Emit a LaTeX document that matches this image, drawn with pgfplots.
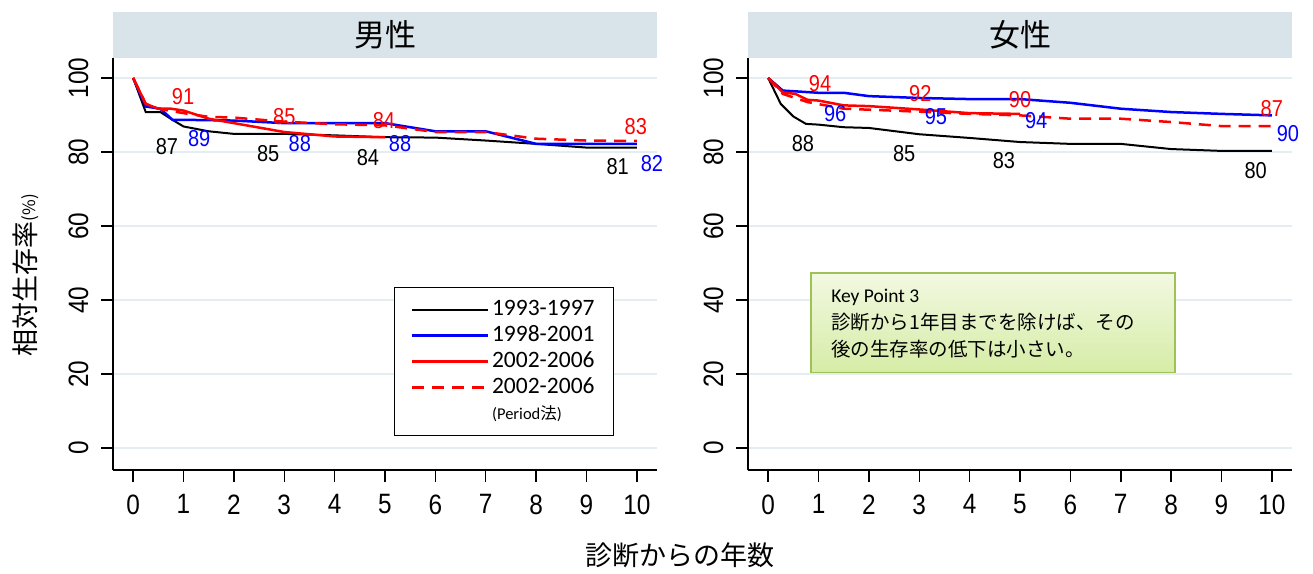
\documentclass[border=0pt]{standalone}
\usepackage{pgfplots}
\pgfplotsset{compat=1.18}
\usepackage{fontspec}
\setmainfont{Liberation Sans}
\newfontfamily\narrow[FakeStretch=0.87]{Liberation Sans}
\newfontfamily\cjk{Noto Sans CJK JP}
\newfontfamily\cali{Carlito}

\definecolor{gridc}{RGB}{228,237,240}
\definecolor{stripc}{RGB}{217,228,234}
\definecolor{kptop}{RGB}{242,249,226}
\definecolor{kpbot}{RGB}{214,236,166}
\definecolor{kpdraw}{RGB}{160,192,90}

\pgfplotsset{
  panel/.style={
    scale only axis, width=544pt, height=412pt,
    xmin=-0.4, xmax=10.4, ymin=-5.9, ymax=105.4,
    axis x line*=bottom, axis y line*=left,
    axis line style={line width=2pt, -},
    xtick={0,...,10}, ytick={0,20,...,100},
    tick style={line width=1.5pt, black},
    tick align=outside,
    major tick length=12pt,
    ymajorgrids, grid style={gridc, line width=2pt},
    tick label style={font=\fontsize{28}{30}\narrow},
    /pgf/number format/assume math mode=true,
    yticklabel style={rotate=90, anchor=south},
    yticklabel shift=9pt,
    xticklabel shift=9pt,
    clip=false,
    every axis title shift=0pt,
    title style={at={(0.5,1)}, anchor=south, yshift=0pt, fill=stripc,
      minimum width=544pt, minimum height=46pt, inner sep=0pt, outer sep=0pt,
      font=\fontsize{31}{31}\cjk},
  },
  blk/.style={black, line width=2pt},
  blu/.style={blue, line width=2.5pt},
  rsol/.style={red, line width=2.5pt},
  rdsh/.style={red, line width=2.5pt, dash pattern=on 12pt off 8pt},
}
\newcommand{\lbl}{\fontsize{23}{23}\narrow}

\begin{document}
\begin{tikzpicture}
\path[use as bounding box] (0,0) rectangle (1313pt,573pt);

% ---- men ----
\begin{axis}[panel, at={(113pt,103pt)}, anchor=south west, title={男性},
  legend style={at={(axis cs:5.18,43.5)}, anchor=north west,
    draw=black, line width=1pt, inner xsep=16pt, inner ysep=9pt,
    font=\fontsize{23.5}{23.5}\cali, row sep=0pt,
    /tikz/every even column/.append style={column sep=5pt},
    nodes={inner ysep=1.5pt, inner xsep=3pt, text height=17pt, text depth=6pt}},
  legend cell align=left,
  legend image code/.code={\draw[#1] (0pt,0pt) -- (76pt,0pt);},
]
\addplot[blk] coordinates {(0,100)(0.25,90.8)(0.54,90.8)(0.78,88.7)(1,86.9)(1.5,85.6)(2,84.9)(3,84.9)(4,84.5)(5,84.0)(6,83.9)(7,83.1)(8,82.2)(9,81.2)(10,81.2)};
\addlegendentry{1993-1997}
\addplot[blu] coordinates {(0,100)(0.25,92.3)(0.54,91.7)(0.78,88.7)(1,88.7)(2,88.5)(3,87.8)(4,87.8)(5,87.8)(6,85.6)(7,85.6)(8,82.2)(9,82.2)(10,82.2)};
\addlegendentry{1998-2001}
\addplot[rsol] coordinates {(0,100)(0.25,93)(0.5,91.7)(0.75,91.7)(1,91.2)(1.5,89)(2,87.8)(3,85.4)(4,84.2)(5,84.0)};
\addlegendentry{2002-2006}
\addplot[rdsh] coordinates {(0,100)(0.25,93)(0.5,91.7)(1,90.5)(1.5,89.5)(2,89.3)(3,88.2)(4,87.5)(5,87.2)(6,85.4)(7,85.4)(8,83.6)(9,83.1)(10,83.0)};
\addlegendentry{2002-2006}
\addlegendimage{empty legend}
\addlegendentry{\fontsize{16.5}{16.5}\selectfont (Period\cjk 法\cali)}

\node[text=red,   font=\lbl] at (axis cs:0.99,95.1) {91};
\node[text=black, font=\lbl] at (axis cs:0.67,81.6) {87};
\node[text=blue,  font=\lbl] at (axis cs:1.31,83.5) {89};
\node[text=red,   font=\lbl] at (axis cs:3.0,89.7) {85};
\node[text=black, font=\lbl] at (axis cs:2.68,79.7) {85};
\node[text=blue,  font=\lbl] at (axis cs:3.31,82.4) {88};
\node[text=red,   font=\lbl] at (axis cs:4.98,88.4) {84};
\node[text=black, font=\lbl] at (axis cs:4.66,78.4) {84};
\node[text=blue,  font=\lbl] at (axis cs:5.3,82.4) {88};
\node[text=red,   font=\lbl] at (axis cs:9.98,86.8) {83};
\node[text=black, font=\lbl] at (axis cs:9.62,76.2) {81};
\node[text=blue,  font=\lbl] at (axis cs:10.3,77.0) {82};
\end{axis}

% ---- women ----
\begin{axis}[panel, at={(748pt,103pt)}, anchor=south west, title={女性}]
\addplot[blk] coordinates {(0,100)(0.25,93)(0.5,89.6)(0.75,87.6)(1,87.4)(1.5,86.7)(2,86.5)(3,84.8)(4,83.8)(5,82.7)(6,82.2)(7,82.2)(8,80.8)(9,80.3)(10,80.3)};
\addplot[blu] coordinates {(0,100)(0.29,96.6)(1,96)(1.5,96)(2,95.1)(3,94.6)(4,94.3)(5,94.3)(6,93.3)(7,91.7)(8,90.8)(9,90.3)(10,89.9)};
\addplot[rsol] coordinates {(0,100)(0.29,96.1)(0.54,95.7)(0.78,94.1)(1,93.9)(1.5,92.6)(2,92.4)(3,91.5)(4,90.5)(5,90.3)};
\addplot[rdsh] coordinates {(0,100)(0.29,95.7)(0.78,93.5)(1.5,91.7)(3,90.9)(4,90.3)(5,89.9)(6,89)(7,89)(8,88.1)(9,87)(10,87)};

\node[text=red,   font=\lbl] at (axis cs:1.03,98.4) {94};
\node[text=black, font=\lbl] at (axis cs:0.69,82.4) {88};
\node[text=blue,  font=\lbl] at (axis cs:1.33,90.5) {96};
\node[text=red,   font=\lbl] at (axis cs:3.02,95.9) {92};
\node[text=black, font=\lbl] at (axis cs:2.70,79.7) {85};
\node[text=blue,  font=\lbl] at (axis cs:3.33,89.5) {95};
\node[text=red,   font=\lbl] at (axis cs:5.0,94.1) {90};
\node[text=black, font=\lbl] at (axis cs:4.68,77.6) {83};
\node[text=blue,  font=\lbl] at (axis cs:5.32,88.6) {94};
\node[text=red,   font=\lbl] at (axis cs:10.0,91.6) {87};
\node[text=black, font=\lbl] at (axis cs:9.68,75.1) {80};
\node[text=blue,  font=\lbl] at (axis cs:10.32,84.9) {90};

% key point box
\draw[kpdraw, line width=1.5pt, top color=kptop, bottom color=kpbot]
  (axis cs:0.85,47.3) rectangle (axis cs:8.08,20.5);
\node[anchor=north west, align=left, inner sep=0pt, font=\fontsize{19.5}{27}\cjk]
  at (axis cs:1.25,43.0) {{\cali Key Point 3}\\診断から1年目までを除けば、その\\後の生存率の低下は小さい。};
\end{axis}

% axis titles
\node[rotate=90, font=\fontsize{27}{27}\cjk] at (26pt,298pt) {相対生存率{\fontsize{17}{17}\selectfont(\%)}};
\node[font=\fontsize{27}{27}\cjk] at (680pt,18pt) {診断からの年数};
\end{tikzpicture}
\end{document}
